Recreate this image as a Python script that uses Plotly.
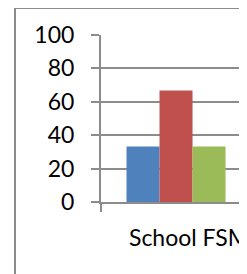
import plotly.graph_objects as go

categories = ["School FSM"]
series_names = ["Series 1", "Series 2", "Series 3"]
series_values = [[33.3], [66.7], [33.3]]
colors = ["#4F81BD", "#C0504D", "#9BBB59"]
y_ticks = [0, 20, 40, 60, 80, 100]

AX = "#8c8c8c"

fig = go.Figure()
xpos = list(range(len(categories)))
for name, vals, c in zip(series_names, series_values, colors):
    fig.add_trace(go.Bar(x=xpos, y=vals, name=name,
                         marker=dict(color=c, line=dict(width=0))))

# page body has an 8px margin, so the figure is laid out from (8, 8)
fig.update_layout(
    width=239, height=266,
    margin=dict(l=93, r=0, t=27, b=72, pad=0, autoexpand=False),
    barmode="group", bargap=0.34, bargroupgap=0, showlegend=False,
    plot_bgcolor="white", paper_bgcolor="white",
    font=dict(family="Lato", size=23, color="black"),
    shapes=[dict(type="rect", xref="paper", yref="paper",
                 x0=-0.589, x1=1.3, y0=-0.7, y1=1.162,
                 line=dict(color=AX, width=2), fillcolor="rgba(0,0,0,0)")],
)
fig.update_xaxes(
    range=[-0.5, 0.473], tickvals=xpos, ticktext=categories,
    ticks="", showgrid=False, zeroline=False, automargin=False,
    showline=True, linecolor=AX, linewidth=2,
    ticklabelstandoff=14, ticklabelshift=13, ticklabeloverflow="allow",
    minor=dict(tickvals=[-0.5], ticks="outside", ticklen=8,
               tickcolor=AX, tickwidth=2, showgrid=False),
)
fig.update_yaxes(
    range=[0, 100], tickvals=y_ticks, ticks="outside", ticklen=8,
    tickcolor=AX, tickwidth=2, showgrid=True, gridcolor=AX, gridwidth=2,
    showline=True, linecolor=AX, linewidth=2, zeroline=False, automargin=False,
    ticklabelstandoff=12,
)

fig.write_html("out.html")
